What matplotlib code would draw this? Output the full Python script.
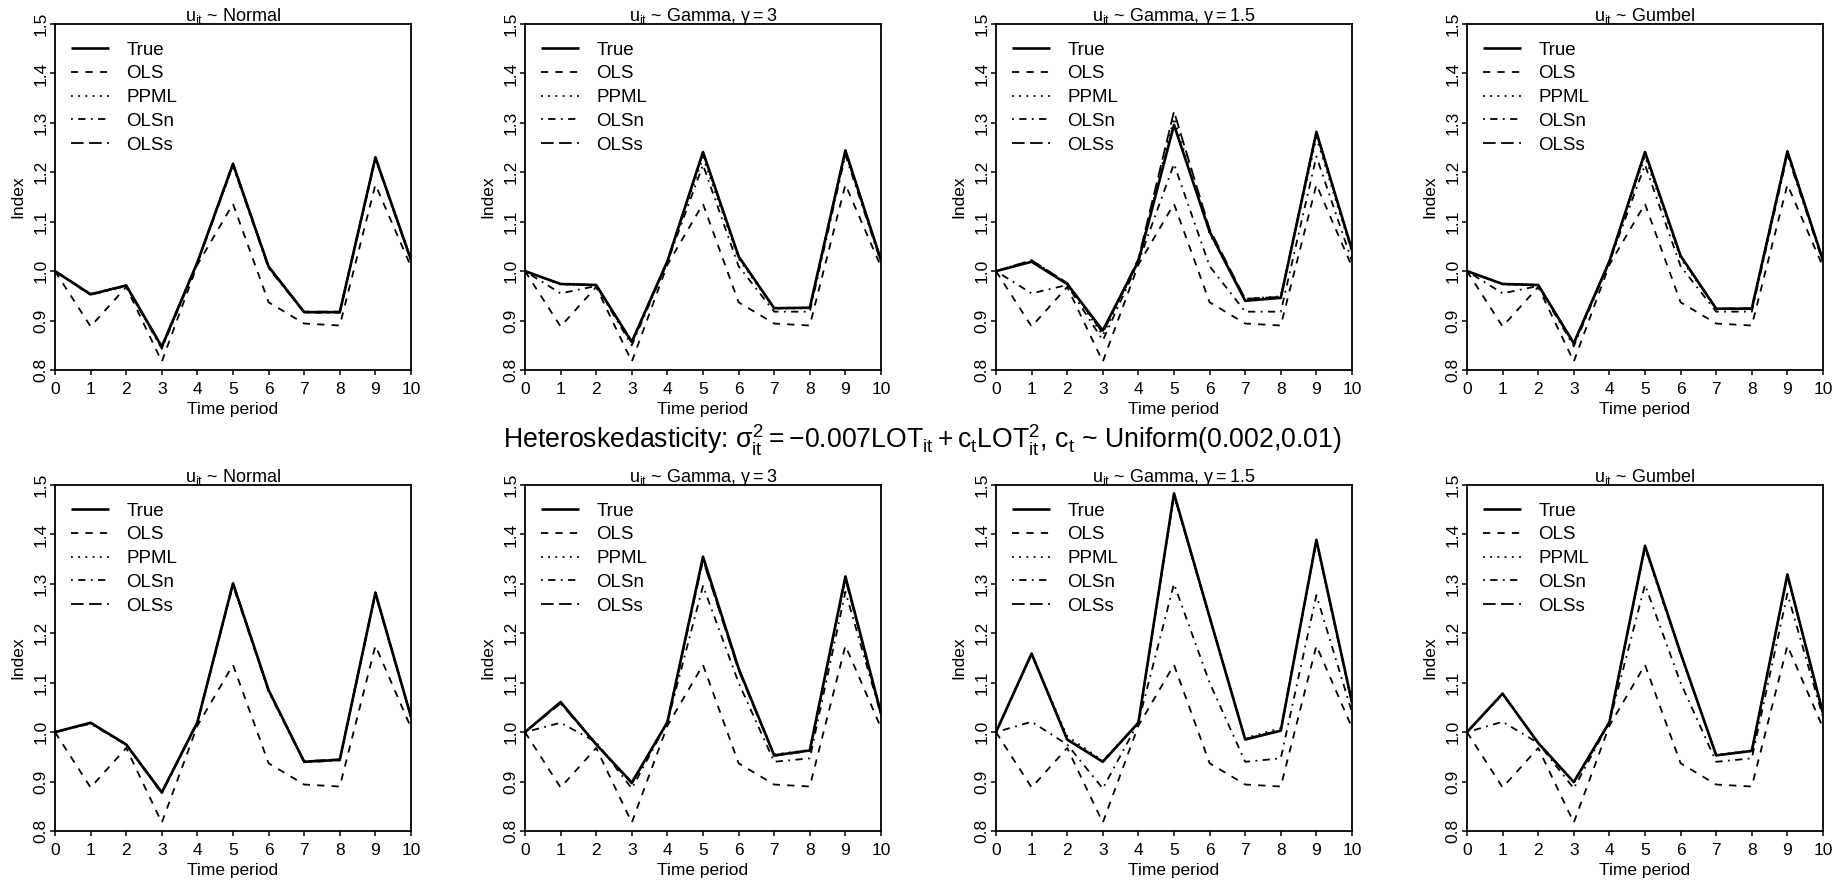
import matplotlib
matplotlib.use("Agg")
import matplotlib.pyplot as plt

plt.rcParams.update({
    "font.family": ["Liberation Sans", "DejaVu Sans"],
    "mathtext.fontset": "custom",
    "mathtext.rm": "Liberation Sans",
    "mathtext.it": "Liberation Sans",
    "mathtext.sf": "Liberation Sans",
    "mathtext.bf": "Liberation Sans:bold",
})

# ---------------------------------------------------------------- data
periods = list(range(11))
period_labels = [str(p) for p in periods]
index_ticks = [0.8, 0.9, 1.0, 1.1, 1.2, 1.3, 1.4, 1.5]
index_labels = ["0.8", "0.9", "1.0", "1.1", "1.2", "1.3", "1.4", "1.5"]
methods = ["True", "OLS", "PPML", "OLSn", "OLSs"]

panel_titles = [
    r"$\mathrm{u_{it}}$ ~ Normal",
    r"$\mathrm{u_{it}}$ ~ Gamma, $\gamma = 3$",
    r"$\mathrm{u_{it}}$ ~ Gamma, $\gamma = 1.5$",
    r"$\mathrm{u_{it}}$ ~ Gumbel",
]

# OLS estimate (same in every scenario)
ols = [1.000, 0.888, 0.968, 0.817, 1.013, 1.136, 0.937, 0.894, 0.890, 1.175, 1.009]

# Homoskedastic scenarios (top row)
homo_normal_true = [1.000, 0.953, 0.971, 0.847, 1.018, 1.217, 1.009, 0.917, 0.917, 1.230, 1.023]
homo_normal_ppml = [1.000, 0.954, 0.970, 0.845, 1.017, 1.214, 1.008, 0.917, 0.918, 1.228, 1.022]
homo_normal_olsn = [1.000, 0.952, 0.970, 0.843, 1.016, 1.213, 1.006, 0.916, 0.916, 1.227, 1.021]
homo_normal_olss = [1.000, 0.954, 0.971, 0.848, 1.018, 1.218, 1.010, 0.918, 0.918, 1.231, 1.023]

homo_gamma3_true = [1.000, 0.974, 0.972, 0.857, 1.020, 1.241, 1.030, 0.925, 0.926, 1.244, 1.022]
homo_gamma3_ppml = [1.000, 0.973, 0.971, 0.855, 1.020, 1.230, 1.025, 0.924, 0.925, 1.240, 1.021]
homo_gamma3_olsn = [1.000, 0.955, 0.970, 0.850, 1.018, 1.215, 1.010, 0.918, 0.918, 1.235, 1.018]
homo_gamma3_olss = [1.000, 0.974, 0.972, 0.856, 1.021, 1.240, 1.029, 0.925, 0.926, 1.245, 1.022]

homo_gamma15_true = [1.000, 1.019, 0.974, 0.880, 1.020, 1.296, 1.080, 0.940, 0.946, 1.281, 1.043]
homo_gamma15_ppml = [1.000, 1.022, 0.976, 0.870, 1.022, 1.310, 1.075, 0.944, 0.949, 1.270, 1.038]
homo_gamma15_olsn = [1.000, 0.955, 0.972, 0.860, 1.018, 1.217, 1.010, 0.918, 0.918, 1.232, 1.020]
homo_gamma15_olss = [1.000, 1.022, 0.976, 0.875, 1.025, 1.323, 1.085, 0.944, 0.948, 1.283, 1.040]

homo_gumbel_true = [1.000, 0.974, 0.972, 0.854, 1.020, 1.241, 1.031, 0.924, 0.924, 1.242, 1.022]
homo_gumbel_ppml = [1.000, 0.973, 0.971, 0.853, 1.020, 1.232, 1.026, 0.923, 0.923, 1.240, 1.021]
homo_gumbel_olsn = [1.000, 0.955, 0.970, 0.848, 1.018, 1.215, 1.010, 0.918, 0.918, 1.235, 1.018]
homo_gumbel_olss = [1.000, 0.974, 0.972, 0.855, 1.020, 1.240, 1.030, 0.924, 0.925, 1.243, 1.022]

# Heteroskedastic scenarios (bottom row)
het_normal_true = [1.000, 1.019, 0.975, 0.878, 1.020, 1.301, 1.085, 0.940, 0.944, 1.282, 1.031]
het_normal_ppml = [1.000, 1.018, 0.976, 0.877, 1.020, 1.299, 1.084, 0.941, 0.945, 1.280, 1.031]
het_normal_olsn = [1.000, 1.017, 0.974, 0.876, 1.019, 1.297, 1.082, 0.939, 0.943, 1.279, 1.030]
het_normal_olss = [1.000, 1.019, 0.975, 0.879, 1.021, 1.302, 1.085, 0.941, 0.945, 1.283, 1.031]

het_gamma3_true = [1.000, 1.061, 0.975, 0.898, 1.020, 1.355, 1.129, 0.953, 0.963, 1.315, 1.038]
het_gamma3_ppml = [1.000, 1.060, 0.977, 0.897, 1.022, 1.350, 1.127, 0.955, 0.964, 1.312, 1.038]
het_gamma3_olsn = [1.000, 1.019, 0.980, 0.886, 1.020, 1.296, 1.100, 0.940, 0.947, 1.284, 1.035]
het_gamma3_olss = [1.000, 1.058, 0.976, 0.896, 1.021, 1.348, 1.125, 0.952, 0.962, 1.310, 1.037]

het_gamma15_true = [1.000, 1.159, 0.985, 0.940, 1.019, 1.483, 1.233, 0.985, 1.003, 1.389, 1.060]
het_gamma15_ppml = [1.000, 1.157, 0.992, 0.942, 1.020, 1.478, 1.232, 0.988, 1.008, 1.385, 1.058]
het_gamma15_olsn = [1.000, 1.021, 0.975, 0.886, 1.020, 1.300, 1.100, 0.940, 0.947, 1.277, 1.040]
het_gamma15_olss = [1.000, 1.158, 0.986, 0.940, 1.019, 1.480, 1.232, 0.986, 1.004, 1.387, 1.058]

het_gumbel_true = [1.000, 1.078, 0.978, 0.899, 1.020, 1.377, 1.160, 0.953, 0.962, 1.319, 1.038]
het_gumbel_ppml = [1.000, 1.076, 0.979, 0.898, 1.021, 1.372, 1.157, 0.954, 0.963, 1.316, 1.038]
het_gumbel_olsn = [1.000, 1.021, 0.978, 0.886, 1.020, 1.298, 1.100, 0.940, 0.947, 1.280, 1.030]
het_gumbel_olss = [1.000, 1.077, 0.978, 0.899, 1.020, 1.375, 1.159, 0.953, 0.962, 1.318, 1.038]

header = (r"Heteroskedasticity: $\sigma^2_{\mathrm{it}} = -0.007\mathrm{LOT}_{\mathrm{it}}"
          r" + \mathrm{c}_{\mathrm{t}}\mathrm{LOT}^2_{\mathrm{it}}$, $\mathrm{c}_{\mathrm{t}}$"
          r" ~ Uniform(0.002,0.01)")

panels = [
    [homo_normal_true, ols, homo_normal_ppml, homo_normal_olsn, homo_normal_olss],
    [homo_gamma3_true, ols, homo_gamma3_ppml, homo_gamma3_olsn, homo_gamma3_olss],
    [homo_gamma15_true, ols, homo_gamma15_ppml, homo_gamma15_olsn, homo_gamma15_olss],
    [homo_gumbel_true, ols, homo_gumbel_ppml, homo_gumbel_olsn, homo_gumbel_olss],
    [het_normal_true, ols, het_normal_ppml, het_normal_olsn, het_normal_olss],
    [het_gamma3_true, ols, het_gamma3_ppml, het_gamma3_olsn, het_gamma3_olss],
    [het_gamma15_true, ols, het_gamma15_ppml, het_gamma15_olsn, het_gamma15_olss],
    [het_gumbel_true, ols, het_gumbel_ppml, het_gumbel_olsn, het_gumbel_olss],
]

# ---------------------------------------------------------------- styles
line_styles = {
    "True": dict(linestyle="-", linewidth=1.9),
    "OLS": dict(linestyle=(0, (4, 4)), linewidth=1.3),
    "PPML": dict(linestyle=(0, (1, 3)), linewidth=1.3),
    "OLSn": dict(linestyle=(0, (1, 3, 4, 3)), linewidth=1.3),
    "OLSs": dict(linestyle=(0, (7, 3)), linewidth=1.3),
}

W, H = 1845, 882
fig = plt.figure(figsize=(W / 100, H / 100), dpi=100)

col_left = [55, 525, 996, 1467]
row_top = [24, 485]
ax_w, ax_h = 356, 346
FS = 12.5
LEG_FS = 13.5

for k, series in enumerate(panels):
    r, c = divmod(k, 4)
    left = col_left[c] / W
    bottom = 1 - (row_top[r] + ax_h) / H
    ax = fig.add_axes([left, bottom, ax_w / W, ax_h / H])

    for name, values in zip(methods, series):
        ax.plot(periods, values, color="black", label=name,
                solid_capstyle="butt", dash_capstyle="butt", **line_styles[name])

    ax.set_xlim(0, 10)
    ax.set_ylim(0.8, 1.5)
    ax.set_xticks(periods)
    ax.set_xticklabels(period_labels)
    ax.set_yticks(index_ticks)
    ax.set_yticklabels(index_labels, rotation=90, va="center")
    ax.tick_params(axis="both", direction="out", length=3.6, width=1.1,
                   labelsize=FS, color="black")
    ax.tick_params(axis="y", pad=1)
    ax.tick_params(axis="x", pad=5)
    for sp in ax.spines.values():
        sp.set_linewidth(1.3)

    ax.set_xlabel("Time period", fontsize=FS)
    ax.set_ylabel("Index", fontsize=FS)
    ax.xaxis.set_label_coords(0.5, -0.113)
    ax.yaxis.set_label_coords(-0.104, 0.5)
    ax.xaxis.label.set_verticalalignment("center")
    ax.yaxis.label.set_verticalalignment("center")

    ax.text(0.5, 1.010, panel_titles[c], transform=ax.transAxes,
            ha="center", va="baseline", fontsize=FS + 0.5)

    ax.legend(loc="upper left", bbox_to_anchor=(0.045, 0.949), frameon=False,
              fontsize=LEG_FS, handlelength=2.0, handletextpad=0.95,
              labelspacing=0.35, borderpad=0, borderaxespad=0)

fig.text(0.5, 1 - 440 / H, header, ha="center", va="center", fontsize=19.2)

fig.savefig("out.png", dpi=100)
